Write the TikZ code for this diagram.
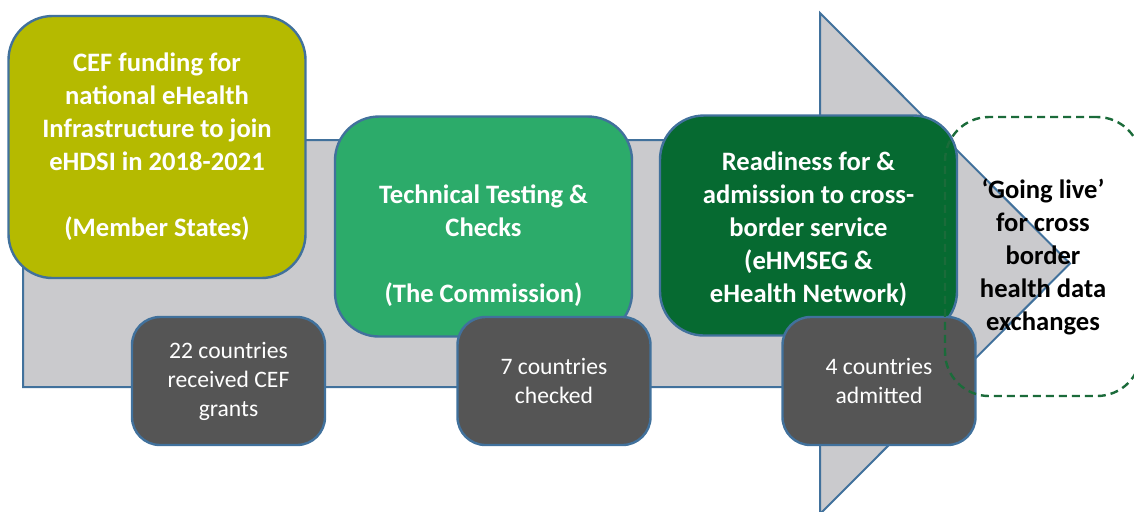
\documentclass[tikz,border=0pt]{standalone}
\usepackage{fontspec}
\setmainfont{Carlito}
\definecolor{frameblue}{HTML}{41719C}
\definecolor{arrowgray}{HTML}{CACACD}
\definecolor{cefolive}{HTML}{B5BA00}
\definecolor{testgreen}{HTML}{2CAB6A}
\definecolor{readygreen}{HTML}{066A31}
\definecolor{countgray}{HTML}{555555}
\definecolor{livegreen}{HTML}{1B6B3A}

\begin{document}
\begin{tikzpicture}[x=0.5pt, y=-0.5pt,
  stage/.style={draw=frameblue, line width=1.2pt, rounded corners=22pt, align=center, text=white,
    font=\bfseries\fontsize{13.3}{16.5}\selectfont, minimum width=148.5pt, minimum height=110pt},
  count/.style={draw=frameblue, line width=1.2pt, rounded corners=14pt, fill=countgray, align=center, text=white,
    font=\fontsize{11.8}{14.5}\selectfont, minimum width=96.5pt, minimum height=64pt}]
  \useasboundingbox (0,0) rectangle (1134,511);

  % big grey arrow behind everything
  \draw[draw=frameblue, line width=1pt, fill=arrowgray]
    (23,140) -- (820,140) -- (820,13) -- (1070,263.5) -- (820,514) -- (820,387) -- (23,387) -- cycle;

  % stages
  \node[stage, fill=cefolive, minimum height=131pt] (cef) at (157,147)
    {CEF funding for\\national eHealth\\Infrastructure to join\\eHDSI in 2018-2021\\[16.5pt](Member States)};
  \node[stage, fill=testgreen] (testing) at (483.5,226.5)
    {\mbox{}\\[12pt]Technical Testing \&\\Checks\\[16.5pt](The Commission)};
  \node[stage, fill=readygreen] (readiness) at (808.5,225.5)
    {\mbox{}\\[-4pt]Readiness for \&\\admission to cross-\\border service\\(eHMSEG \&\\eHealth Network)};

  % counts
  \node[count] (grants) at (228.5,381) {22 countries\\received CEF\\grants};
  \node[count] (checked) at (554,381) {7 countries\\checked};
  \node[count] (admitted) at (879,381) {4 countries\\admitted};

  % going live
  \node[draw=livegreen, dashed, dash pattern=on 4pt off 2.5pt, line width=1.2pt, rounded corners=22pt,
    minimum width=98pt, minimum height=139.5pt, align=center,
    font=\bfseries\fontsize{13.3}{16.5}\selectfont] (golive) at (1043,256.5)
    {‘Going live’\\for cross\\border\\health data\\exchanges};
\end{tikzpicture}
\end{document}
